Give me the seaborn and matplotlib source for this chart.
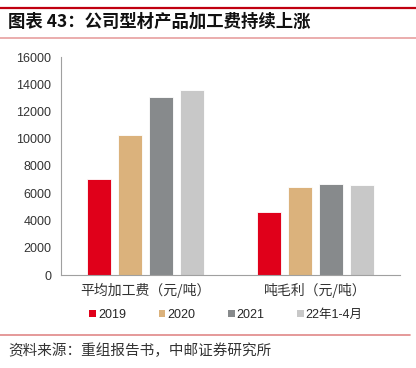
import matplotlib
matplotlib.use("Agg")
import matplotlib.pyplot as plt
import seaborn as sns
import pandas as pd
from matplotlib.patches import Patch
from matplotlib.lines import Line2D

categories = ["平均加工费（元/吨）", "吨毛利（元/吨）"]
series = ["2019", "2020", "2021", "22年1-4月"]
values_2019 = [7050, 4650]
values_2020 = [10250, 6450]
values_2021 = [13030, 6680]
values_2022 = [13550, 6620]
yticks = [0, 2000, 4000, 6000, 8000, 10000, 12000, 14000, 16000]
title = "图表 43：公司型材产品加工费持续上涨"
source = "资料来源：重组报告书，中邮证券研究所"
colors = ["#E0001A", "#DBB27C", "#878A8C", "#C8C8C8"]

rows = []
for s, vals in zip(series, [values_2019, values_2020, values_2021, values_2022]):
    for c, v in zip(categories, vals):
        rows.append({"category": c, "series": s, "value": v})
df = pd.DataFrame(rows)

sns.set_style("white")
plt.rcParams["font.family"] = ["Liberation Sans", "Noto Sans CJK SC", "DejaVu Sans"]

fig = plt.figure(figsize=(4.16, 3.68), dpi=100)
ax = fig.add_axes([61/416, 1-275/368, 339/416, (275-57)/368])

sns.barplot(data=df, x="category", y="value", hue="series", order=categories,
            hue_order=series, palette=colors, width=0.73, gap=0.22, saturation=1,
            edgecolor="white", linewidth=0.6, ax=ax, legend=False)

ax.set_ylim(0, 16000)
ax.set_xlim(-0.5, 1.5)
ax.set_yticks(yticks)
ax.set_yticklabels([str(t) for t in yticks], fontsize=9, color="#333333")
ax.set_xticks([-0.5, 0.5, 1.5])
ax.set_xticklabels(["", "", ""])
ax.set_xticks([0, 1], minor=True)
ax.set_xticklabels(categories, minor=True, fontsize=10, color="#333333",
                   family=["Noto Sans CJK SC", "DejaVu Sans"])
ax.tick_params(axis="x", which="minor", length=0, pad=6)
ax.tick_params(axis="x", which="major", length=4, color="#A0A0A0", width=0.8, direction="out")
ax.tick_params(axis="y", length=4, color="#A0A0A0", width=0.8, direction="out", pad=3)
ax.set_xlabel("")
ax.set_ylabel("")
for side in ["top", "right"]:
    ax.spines[side].set_visible(False)
for side in ["left", "bottom"]:
    ax.spines[side].set_color("#A0A0A0")
    ax.spines[side].set_linewidth(0.8)

handles = [Patch(facecolor=c, edgecolor="none") for c in colors]
fig.legend(handles, series, loc="center left", bbox_to_anchor=(78/416, 1-315/368),
           ncol=4, frameon=False, handlelength=0.55, handleheight=0.55,
           handletextpad=0.15, columnspacing=2.6,
           prop={"family": ["Liberation Sans", "Noto Sans CJK SC"], "size": 9})

fig.text(8/416, 1-22/368, title, fontsize=12.5, fontweight="bold", va="center", ha="left",
         family=["Noto Sans CJK SC", "DejaVu Sans"], color="#111111")
fig.add_artist(Line2D([0, 1], [1-8/368, 1-8/368], color="#C00010", lw=1.6))
fig.add_artist(Line2D([0, 1], [1-38/368, 1-38/368], color="#E8A0A0", lw=1.2))
fig.add_artist(Line2D([0, 410/416], [1-335/368, 1-335/368], color="#E08888", lw=1.2))
fig.text(8/416, 1-351/368, source, fontsize=10.5, va="center", ha="left",
         family=["Noto Sans CJK SC", "DejaVu Sans"], color="#333333")

fig.savefig("out.png", dpi=100)
